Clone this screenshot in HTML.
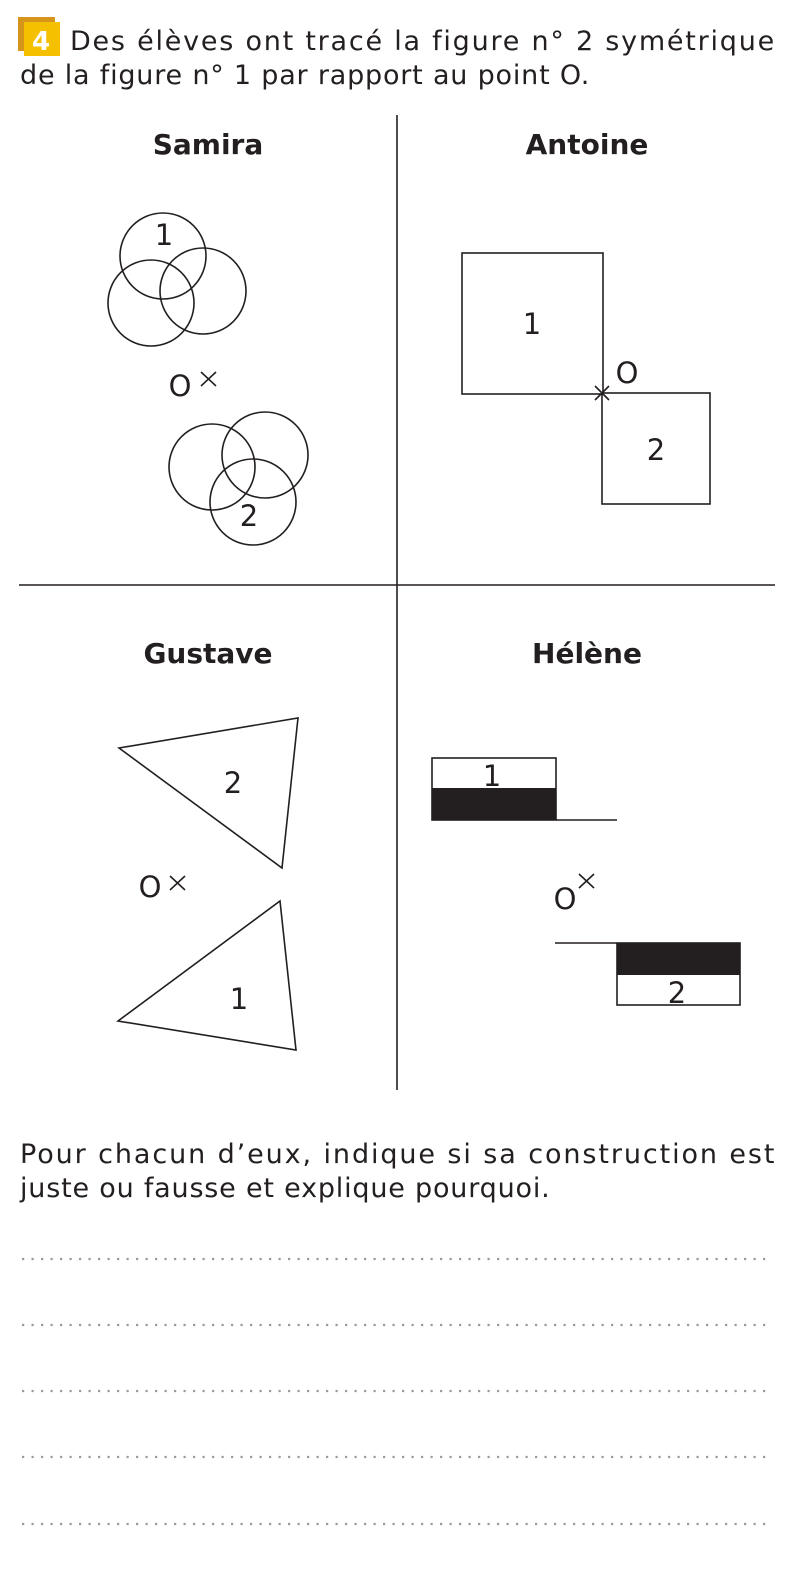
<!DOCTYPE html>
<html><head><meta charset="utf-8"><style>
html,body{margin:0;padding:0;background:#fff;width:803px;height:1585px;overflow:hidden}
svg{display:block;position:absolute;left:0;top:0}
text{font-family:"DejaVu Sans","Liberation Sans",sans-serif;fill:#231f20}
</style></head><body>
<svg width="803" height="1585" viewBox="0 0 803 1585" xmlns="http://www.w3.org/2000/svg">
<rect x="18" y="17" width="37" height="34" fill="#d4951a"/>
<rect x="24" y="22" width="36" height="34" fill="#f5c000"/>
<text x="41" y="50" font-size="26" font-weight="bold" text-anchor="middle" style="fill:#fff">4</text>
<text x="70" y="50" font-size="27" letter-spacing="0.8" textLength="705" lengthAdjust="spacing">Des élèves ont tracé la figure n° 2 symétrique</text>
<text x="20" y="84" font-size="27" letter-spacing="0.8">de la figure n° 1 par rapport au point O.</text>

<g stroke="#231f20" stroke-width="1.6" fill="none">
<line x1="397" y1="115" x2="397" y2="1090"/>
<line x1="19" y1="585" x2="775" y2="585"/>
<circle cx="163" cy="256" r="43"/><circle cx="203" cy="291" r="43"/><circle cx="151" cy="303" r="43"/>
<circle cx="212" cy="467" r="43"/><circle cx="265" cy="455" r="43"/><circle cx="253" cy="502" r="43"/>
<path d="M201 372l15 14M216 372l-15 14"/>
<rect x="462" y="253" width="141" height="141"/>
<rect x="602" y="393" width="108" height="111"/>
<path d="M595 386l14 14M609 386l-14 14"/>
<polygon points="119,748 298,718 282,868"/>
<polygon points="118,1021 280,901 296,1050"/>
<path d="M170 876l15 14M185 876l-15 14"/>
<rect x="432" y="758" width="124" height="62"/>
<line x1="556" y1="820" x2="617" y2="820"/>
<path d="M579 874l15 14M594 874l-15 14"/>
<line x1="555" y1="943" x2="617" y2="943"/>
<rect x="617" y="943" width="123" height="62"/>
</g>
<rect x="432" y="788" width="124" height="32" fill="#231f20"/>
<rect x="617" y="943" width="123" height="32" fill="#231f20"/>

<g font-size="28" font-weight="bold" text-anchor="middle">
<text x="208" y="154">Samira</text><text x="587" y="154">Antoine</text>
<text x="208" y="663">Gustave</text><text x="587" y="663">Hélène</text>
</g>
<g font-size="29" text-anchor="middle">
<text x="164" y="245">1</text><text x="180" y="396">O</text><text x="249" y="526">2</text>
<text x="532" y="334">1</text><text x="627" y="383">O</text><text x="656" y="460">2</text>
<text x="233" y="793">2</text><text x="150" y="897">O</text><text x="239" y="1009">1</text>
<text x="492" y="786">1</text><text x="565" y="909">O</text><text x="677" y="1003">2</text>
</g>

<text x="20" y="1163" font-size="27" letter-spacing="0.5" textLength="755" lengthAdjust="spacing">Pour chacun d’eux, indique si sa construction est</text>
<text x="20" y="1197" font-size="27" letter-spacing="0.8">juste ou fausse et explique pourquoi.</text>
<g stroke="#9a9a9a" stroke-width="2.2" stroke-dasharray="2.2 7.3">
<line x1="22" y1="1259" x2="772" y2="1259"/>
<line x1="22" y1="1325" x2="772" y2="1325"/>
<line x1="22" y1="1391" x2="772" y2="1391"/>
<line x1="22" y1="1457" x2="772" y2="1457"/>
<line x1="22" y1="1524" x2="772" y2="1524"/>
</g>
</svg>
</body></html>
